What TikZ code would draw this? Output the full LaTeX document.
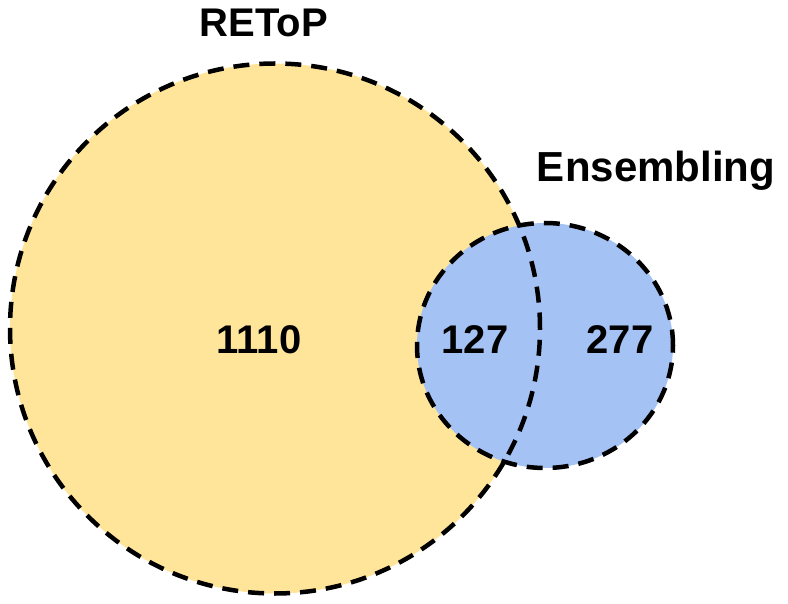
\documentclass[tikz,border=0pt]{standalone}
\usepackage{fontspec}
\setmainfont{Liberation Sans}
\definecolor{vennyellow}{HTML}{FFE599}
\definecolor{vennblue}{HTML}{A4C2F4}
\tikzset{
  vennline/.style={draw=black, line width=4.5pt, dash pattern=on 16pt off 10pt},
  lbl/.style={font=\fontsize{40}{40}\selectfont\bfseries, inner sep=0pt, anchor=base},
}
\begin{document}
\begin{tikzpicture}[x=1pt,y=-1pt]
\useasboundingbox (0,0) rectangle (788,604);
\coordinate (cA) at (275,328.5);
\coordinate (cB) at (545,345.5);
\fill[vennyellow] (cA) circle (265pt);
\fill[vennblue] (cB) ellipse (128pt and 122.5pt);
\draw[vennline] (cA) circle (265pt);
\draw[vennline] (cB) ellipse (128pt and 122.5pt);
\node[lbl] (tA) at (264,37) {REToP};
\node[lbl, font=\fontsize{42}{42}\selectfont\bfseries] (tB) at (656,182) {Ensembling};
\node[lbl] (nA) at (259,353) {1110};
\node[lbl] (nAB) at (475,354) {127};
\node[lbl] (nB) at (620,354) {277};
\end{tikzpicture}
\end{document}
